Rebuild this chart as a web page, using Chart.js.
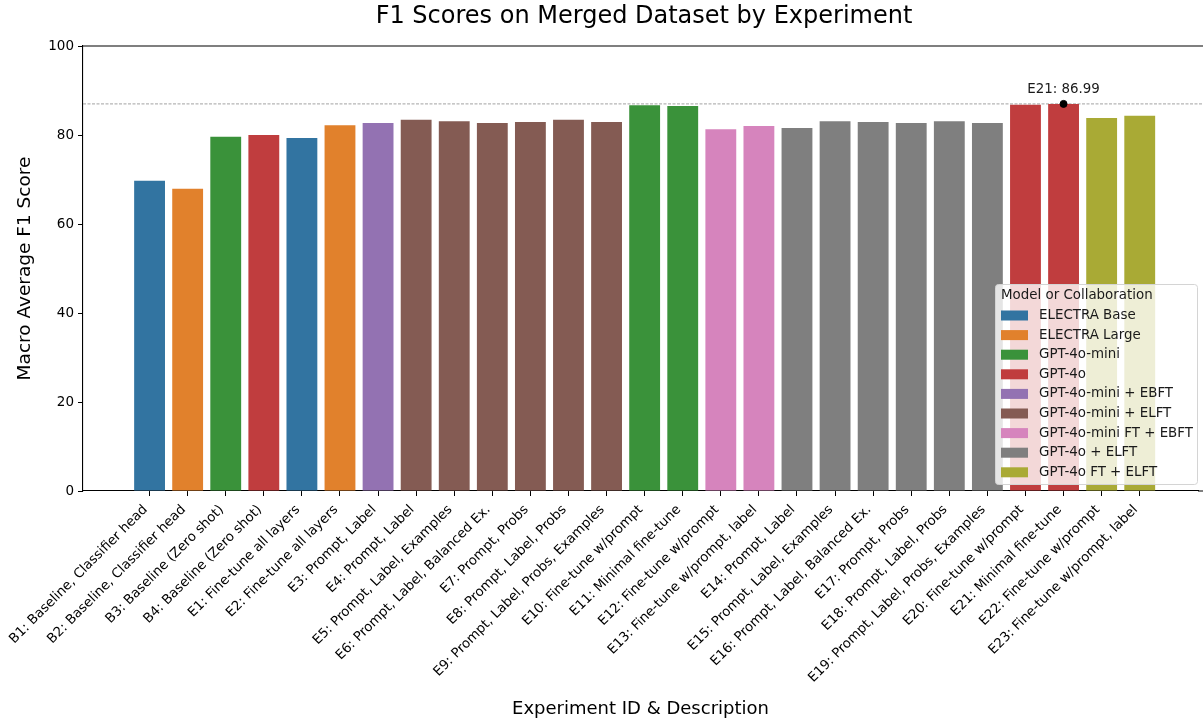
<!DOCTYPE html>
<html lang="en">
<head>
    <meta charset="UTF-8">
    <title>F1 Scores on Merged Dataset by Experiment</title>
    <script src="https://cdn.jsdelivr.net/npm/chart.js"></script>
    <style>
        html, body { margin: 0; padding: 0; background: #fff; }
        #wrap { width: 1203px; height: 722px; }
    </style>
</head>
<body>
    <div id="wrap"><canvas id="f1Chart"></canvas></div>
    <script>
        const xLabels = [
            'B1: Baseline, Classifier head', 'B2: Baseline, Classifier head',
            'B3: Baseline (Zero shot)', 'B4: Baseline (Zero shot)',
            'E1: Fine-tune all layers', 'E2: Fine-tune all layers',
            'E3: Prompt, Label', 'E4: Prompt, Label', 'E5: Prompt, Label, Examples',
            'E6: Prompt, Label, Balanced Ex.', 'E7: Prompt, Probs', 'E8: Prompt, Label, Probs',
            'E9: Prompt, Label, Probs, Examples', 'E10: Fine-tune w/prompt', 'E11: Minimal fine-tune',
            'E12: Fine-tune w/prompt', 'E13: Fine-tune w/prompt, label',
            'E14: Prompt, Label', 'E15: Prompt, Label, Examples', 'E16: Prompt, Label, Balanced Ex.',
            'E17: Prompt, Probs', 'E18: Prompt, Label, Probs', 'E19: Prompt, Label, Probs, Examples',
            'E20: Fine-tune w/prompt', 'E21: Minimal fine-tune',
            'E22: Fine-tune w/prompt', 'E23: Fine-tune w/prompt, label'
        ];
        const f1Scores = [
            69.7, 67.9, 79.6, 80.0, 79.3, 82.2,
            82.7, 83.4, 83.1, 82.7, 82.9, 83.4, 82.9,
            86.7, 86.5, 81.3, 82.0,
            81.6, 83.1, 82.9, 82.7, 83.1, 82.7,
            86.8, 86.99, 83.8, 84.3
        ];
        const barGroups = [
            'ELECTRA Base', 'ELECTRA Large', 'GPT-4o-mini', 'GPT-4o', 'ELECTRA Base', 'ELECTRA Large',
            'GPT-4o-mini + EBFT',
            'GPT-4o-mini + ELFT', 'GPT-4o-mini + ELFT', 'GPT-4o-mini + ELFT',
            'GPT-4o-mini + ELFT', 'GPT-4o-mini + ELFT', 'GPT-4o-mini + ELFT',
            'GPT-4o-mini', 'GPT-4o-mini',
            'GPT-4o-mini FT + EBFT', 'GPT-4o-mini FT + EBFT',
            'GPT-4o + ELFT', 'GPT-4o + ELFT', 'GPT-4o + ELFT',
            'GPT-4o + ELFT', 'GPT-4o + ELFT', 'GPT-4o + ELFT',
            'GPT-4o', 'GPT-4o', 'GPT-4o FT + ELFT', 'GPT-4o FT + ELFT'
        ];
        const legendGroups = [
            'ELECTRA Base', 'ELECTRA Large', 'GPT-4o-mini', 'GPT-4o', 'GPT-4o-mini + EBFT',
            'GPT-4o-mini + ELFT', 'GPT-4o-mini FT + EBFT', 'GPT-4o + ELFT', 'GPT-4o FT + ELFT'
        ];
        const groupColors = [
            '#3274a1', '#e1812c', '#3a923a', '#c03d3e', '#9372b2',
            '#845b53', '#d684bd', '#7f7f7f', '#a9aa35'
        ];
        const yTicks = [0, 20, 40, 60, 80, 100];

        const FONT = 'DejaVu Sans';
        const colorOf = g => groupColors[legendGroups.indexOf(g)];

        // best experiment (marked with a dot + dashed line)
        let best = 0;
        f1Scores.forEach((v, i) => { if (v > f1Scores[best]) best = i; });
        const bestId = xLabels[best].split(':')[0];

        const extras = {
            id: 'extras',
            beforeDatasetsDraw(chart) {
                const {ctx, chartArea, scales: {y}} = chart;
                const yy = y.getPixelForValue(f1Scores[best]);
                ctx.save();
                ctx.strokeStyle = '#8c8c8c';
                ctx.lineWidth = 0.8;
                ctx.setLineDash([3, 1.5]);
                ctx.beginPath();
                ctx.moveTo(chartArea.left, yy);
                ctx.lineTo(chart.width, yy);
                ctx.stroke();
                ctx.restore();
            },
            afterDraw(chart) {
                const {ctx, chartArea, scales: {x, y}} = chart;
                ctx.save();
                // top spine (plot runs off the right edge of the figure)
                ctx.strokeStyle = '#000';
                ctx.lineWidth = 1.1;
                ctx.beginPath();
                ctx.moveTo(chartArea.left, chartArea.top);
                ctx.lineTo(chart.width, chartArea.top);
                ctx.moveTo(chartArea.right, chartArea.bottom);
                ctx.lineTo(chart.width, chartArea.bottom);
                ctx.stroke();

                // title, centred on the plot area
                ctx.fillStyle = '#000';
                ctx.font = '24px "' + FONT + '"';
                ctx.textAlign = 'center';
                ctx.textBaseline = 'middle';
                ctx.fillText('F1 Scores on Merged Dataset by Experiment',
                    (chartArea.left + 1205) / 2, 17);

                // annotation
                ctx.fillStyle = '#1a1a1a';
                ctx.font = '13.4px "' + FONT + '"';
                ctx.textBaseline = 'alphabetic';
                ctx.fillText(bestId + ': ' + f1Scores[best].toFixed(2),
                    x.getPixelForValue(best), y.getPixelForValue(f1Scores[best]) - 11);

                // legend
                const lx = 995.5, ly = 284.5, lw = 202, lh = 200;
                ctx.fillStyle = 'rgba(255,255,255,0.8)';
                ctx.strokeStyle = '#d4d4d4';
                ctx.lineWidth = 1;
                ctx.beginPath();
                ctx.roundRect(lx, ly, lw, lh, 3);
                ctx.fill();
                ctx.stroke();
                ctx.fillStyle = '#1a1a1a';
                ctx.font = '13.4px "' + FONT + '"';
                ctx.textAlign = 'left';
                ctx.textBaseline = 'middle';
                ctx.fillText('Model or Collaboration', 1001, 296);
                legendGroups.forEach((g, i) => {
                    const cy = 315.5 + i * 19.6;
                    ctx.fillStyle = groupColors[i];
                    ctx.fillRect(1001, cy - 5, 27, 10);
                    ctx.fillStyle = '#1a1a1a';
                    ctx.fillText(g, 1039, cy);
                });
                ctx.restore();
            }
        };

        new Chart(document.getElementById('f1Chart'), {
            type: 'bar',
            data: {
                datasets: [{
                    type: 'scatter',
                    data: [{x: best, y: f1Scores[best]}],
                    backgroundColor: '#000',
                    borderColor: '#000',
                    pointRadius: 3.5,
                    order: 0
                }, {
                    label: 'F1',
                    data: f1Scores.map((v, i) => ({x: i, y: v})),
                    backgroundColor: barGroups.map(colorOf),
                    barPercentage: 0.81,
                    categoryPercentage: 1,
                    order: 1
                }]
            },
            options: {
                responsive: true,
                maintainAspectRatio: false,
                animation: false,
                layout: { padding: { left: 0, right: 0, bottom: 0, top: 46 } },
                plugins: {
                    legend: { display: false },
                    tooltip: { enabled: false },
                    title: { display: false }
                },
                scales: {
                    x: {
                        type: 'linear',
                        offset: false,
                        min: -1.748,
                        max: 27.53,
                        grid: { drawOnChartArea: false, tickLength: 5, tickColor: '#000', offset: false },
                        border: { color: '#000', width: 1.1 },
                        afterBuildTicks: axis => { axis.ticks = xLabels.map((_, i) => ({ value: i })); },
                        afterFit: axis => { axis.height = 231; },
                        ticks: {
                            autoSkip: false,
                            minRotation: 45,
                            maxRotation: 45,
                            padding: 6,
                            labelOffset: -4,
                            color: '#000',
                            font: { family: FONT, size: 13.3 },
                            callback: v => xLabels[v]
                        },
                        title: {
                            display: true,
                            text: 'Experiment ID & Description',
                            color: '#000',
                            font: { family: FONT, size: 18 },
                            padding: { bottom: 2 }
                        }
                    },
                    y: {
                        min: 0,
                        max: 100,
                        grid: { drawOnChartArea: false, tickLength: 5, tickColor: '#000' },
                        border: { color: '#000', width: 1.1 },
                        afterBuildTicks: axis => { axis.ticks = yTicks.map(v => ({ value: v })); },
                        afterFit: axis => { axis.width = 83; },
                        ticks: {
                            padding: 4,
                            color: '#000',
                            font: { family: FONT, size: 13.5 }
                        },
                        title: {
                            display: true,
                            text: 'Macro Average F1 Score',
                            color: '#000',
                            font: { family: FONT, size: 18.5 },
                            padding: { top: 14 }
                        }
                    }
                }
            },
            plugins: [extras]
        });
    </script>
</body>
</html>
